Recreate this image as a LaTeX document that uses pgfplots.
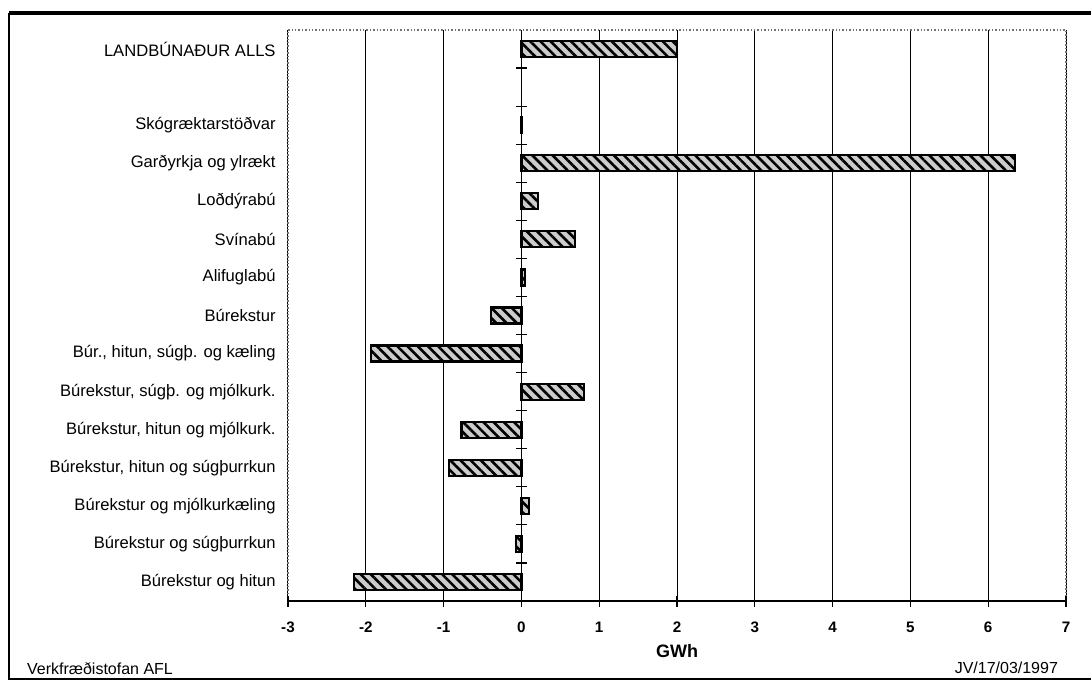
\documentclass[border=0pt]{standalone}
\usepackage{fontspec}
\setmainfont{Liberation Sans}
\usepackage{pgfplots}
\pgfplotsset{compat=1.18}
\usetikzlibrary{patterns.meta}
\begin{document}
\begin{tikzpicture}[font=\fontsize{8.3}{10}\selectfont]
\useasboundingbox (-144pt,-40.5pt) rectangle (401.5pt,300.5pt);
\begin{axis}[
  at={(0pt,0pt)}, anchor=south west, scale only axis,
  width=389pt, height=285.5pt,
  xmin=-3, xmax=7, ymin=-0.5, ymax=14.5,
  xtick={-3,...,7}, xticklabels={-3,-2,-1,0,1,2,3,4,5,6,7},
  xmajorgrids, major grid style={black, line width=0.5pt},
  ytick={0,...,14},
  yticklabels={Búrekstur og hitun, Búrekstur og súgþurrkun, Búrekstur og mjólkurkæling, {Búrekstur, hitun og súgþurrkun}, {Búrekstur, hitun og mjólkurk.}, {Búrekstur, súgþ. og mjólkurk.}, {Búr., hitun, súgþ. og kæling}, Búrekstur, Alifuglabú, Svínabú, Loðdýrabú, Garðyrkja og ylrækt, Skógræktarstöðvar, {}, LANDBÚNAÐUR ALLS},
  major tick length=0pt,
  axis line style={black!55, line width=0.7pt, densely dotted},
  yticklabel style={anchor=east, inner sep=0pt, xshift=-6pt},
  xticklabel style={anchor=center, inner sep=0pt, yshift=-13pt, font=\bfseries\fontsize{7.6}{9}\selectfont},
  xbar, bar width=8pt,
]
\addplot[draw=black, line width=1.1pt,
  preaction={fill=gray!40},
  pattern={Lines[angle=-45,distance=3.6pt,line width=1.3pt]}, pattern color=black]
coordinates {
(-2.15,0) (-0.07,1) (0.10,2) (-0.93,3) (-0.77,4) (0.80,5) (-1.93,6)
(-0.39,7) (0.05,8) (0.69,9) (0.21,10) (6.34,11) (0.01,12) (2.00,14)
};
\end{axis}
\begin{axis}[
  at={(0pt,0pt)}, anchor=south west, scale only axis,
  width=389pt, height=285.5pt,
  xmin=-3, xmax=7, ymin=-0.5, ymax=14.5,
  axis x line=bottom, axis y line=middle,
  axis line style={-, black},
  every inner y axis line/.append style={-},
  every outer x axis line/.append style={-},
  x axis line style={line width=0.8pt},
  y axis line style={line width=0.6pt},
  xtick={-3,...,7}, xticklabels={},
  ytick={0.5,1.5,...,13.5}, yticklabels={},
  tick align=center, major tick length=5.5pt,
  tick style={black, line width=0.6pt},
]
\end{axis}
\node[font=\bfseries\fontsize{9}{11}\selectfont] at (194.5pt,-25pt) {GWh};
\node[anchor=west, font=\fontsize{8}{10}\selectfont] at (-134pt,-34pt) {Verkfræðistofan AFL};
\node[anchor=east, font=\fontsize{8}{10}\selectfont] at (388.5pt,-33.5pt) {JV/17/03/1997};
\draw[line width=1pt] (-139.5pt,294pt) -- (-139.5pt,-39pt) -- (401.5pt,-39pt);
\draw[line width=1.8pt] (-139.5pt,294pt) -- (401.5pt,294pt);
\end{tikzpicture}
\end{document}
